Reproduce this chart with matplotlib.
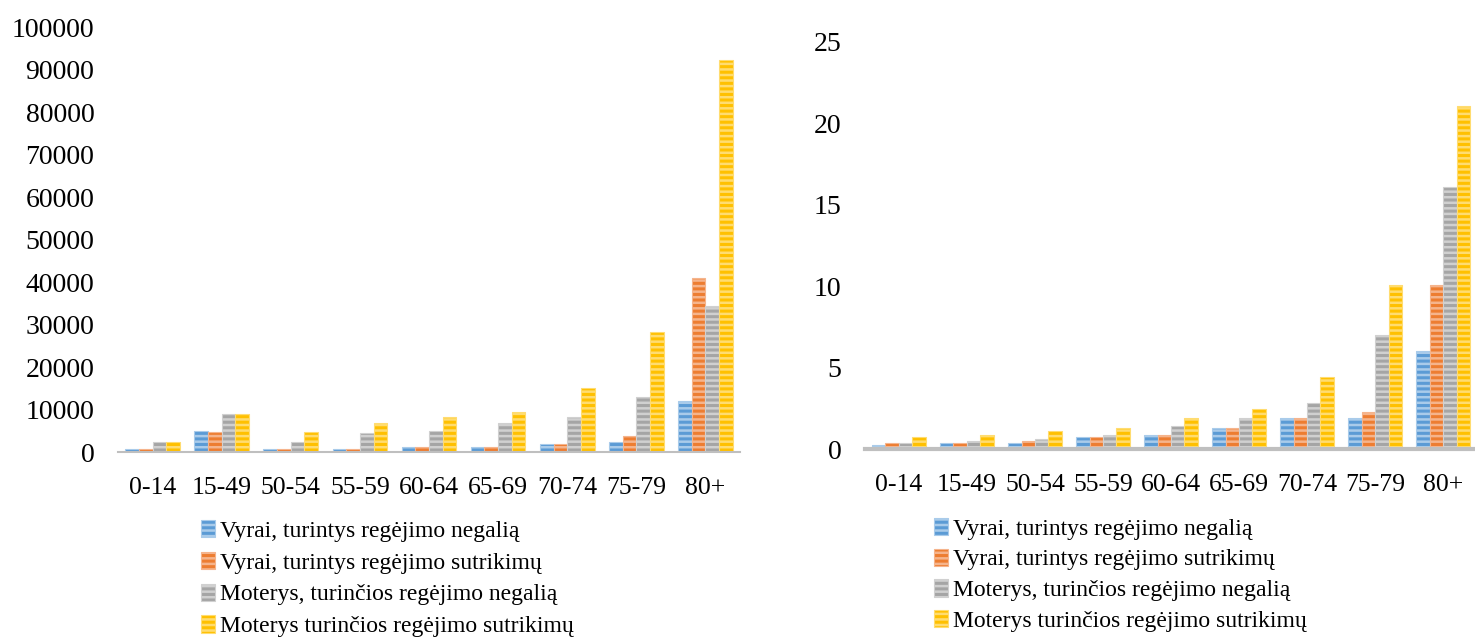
import numpy as np
import matplotlib
matplotlib.use("Agg")
import matplotlib.pyplot as plt

plt.rcParams['font.family'] = ['Liberation Serif', 'DejaVu Serif']
plt.rcParams['hatch.linewidth'] = 1.8

# data
ages = ["0-14", "15-49", "50-54", "55-59", "60-64", "65-69", "70-74", "75-79", "80+"]
labels = ["Vyrai, turintys regėjimo negalią",
          "Vyrai, turintys regėjimo sutrikimų",
          "Moterys, turinčios regėjimo negalią",
          "Moterys turinčios regėjimo sutrikimų"]

# left chart: absolute numbers
men_dis = [700, 4900, 700, 700, 1250, 1250, 1800, 2350, 12100]
men_imp = [700, 4800, 700, 700, 1250, 1250, 1800, 3750, 41000]
wom_dis = [2350, 8900, 2350, 4400, 4850, 6900, 8300, 12900, 34400]
wom_imp = [2350, 8900, 4700, 6900, 8300, 9500, 15000, 28200, 92200]

# right chart: per cent
men_dis_pct = [0.23, 0.37, 0.37, 0.75, 0.86, 1.27, 1.88, 1.88, 6.0]
men_imp_pct = [0.39, 0.37, 0.47, 0.75, 0.86, 1.27, 1.88, 2.29, 10.05]
wom_dis_pct = [0.39, 0.47, 0.63, 0.86, 1.41, 1.88, 2.8, 7.0, 16.1]
wom_imp_pct = [0.75, 0.86, 1.12, 1.27, 1.88, 2.43, 4.44, 10.05, 21.05]

colors = ["#5B9BD5", "#ED7D31", "#A5A5A5", "#FFC000"]
light = ["#A9CBEA", "#F5B48C", "#D0D0D0", "#FFDC70"]


def draw_panel(ax, series, ymax, ystep, axis_lw):
    x = np.arange(len(ages))
    w = 0.198
    for i, vals in enumerate(series):
        ax.bar(x + (i - 1.5) * w, vals, width=w, color=colors[i],
               edgecolor=light[i], linewidth=0.8, hatch='---', label=labels[i])
    ax.set_xlim(-0.5, len(ages) - 0.5)
    ax.set_ylim(0, ymax)
    ax.set_yticks(np.arange(0, ymax + 1, ystep))
    ax.set_xticks(x)
    ax.set_xticklabels(ages)
    for s in ['top', 'right', 'left']:
        ax.spines[s].set_visible(False)
    ax.spines['bottom'].set_color('#BFBFBF')
    ax.spines['bottom'].set_linewidth(axis_lw)
    ax.tick_params(axis='both', length=0)
    ax.tick_params(axis='y', labelsize=20, pad=17)
    ax.tick_params(axis='x', labelsize=18.5, pad=18)


fig = plt.figure(figsize=(14.75, 6.39), dpi=100)

ax1 = fig.add_axes([0.080, 0.2926, 0.4217, 0.665])
draw_panel(ax1, [men_dis, men_imp, wom_dis, wom_imp], 100000, 10000, 1.5)

ax2 = fig.add_axes([0.5864, 0.2973, 0.4150, 0.637])
draw_panel(ax2, [men_dis_pct, men_imp_pct, wom_dis_pct, wom_imp_pct], 25, 5, 3)

leg_kw = dict(frameon=False, fontsize=17, handlelength=0.6, handleheight=0.75,
              handletextpad=0.2, borderpad=0, borderaxespad=0)
fig.legend(handles=ax1.containers, labels=labels, loc='upper left', labelspacing=0.42,
           bbox_to_anchor=(201 / 1475, 1 - 520 / 639), **leg_kw)
fig.legend(handles=ax2.containers, labels=labels, loc='upper left', labelspacing=0.37,
           bbox_to_anchor=(934 / 1475, 1 - 518 / 639), **leg_kw)

fig.savefig("out.png", dpi=100)
